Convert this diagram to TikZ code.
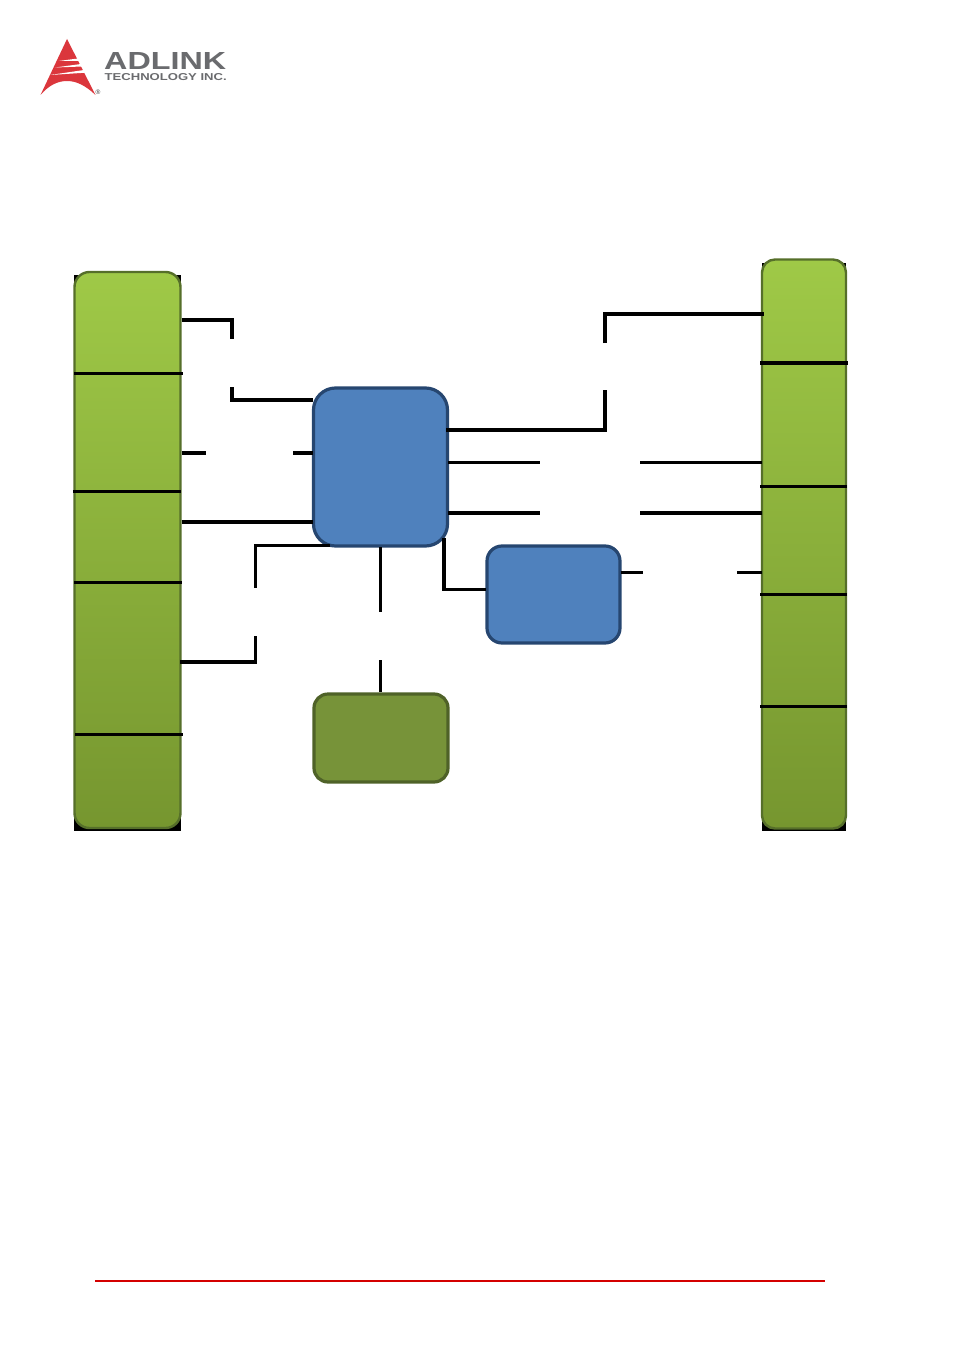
\documentclass[tikz,border=0pt]{standalone}
\usepackage{graphicx}
\usepackage{fontspec}
\setmainfont{Liberation Sans}
\usetikzlibrary{calc}
\definecolor{barborder}{HTML}{566F2A}
\definecolor{bartop}{HTML}{9FC947}
\definecolor{barbot}{HTML}{76962F}
\definecolor{bluefill}{HTML}{4F81BD}
\definecolor{blueline}{HTML}{264670}
\definecolor{greenfill}{HTML}{779339}
\definecolor{greenline}{HTML}{4F6228}
\definecolor{logored}{HTML}{DB363C}
\definecolor{logogray}{HTML}{6A6B6E}
\definecolor{footred}{HTML}{D40000}
\tikzset{
  bar/.style={draw=barborder,line width=2.4pt,top color=bartop,bottom color=barbot,rounded corners=15pt,inner sep=0pt,minimum width=#1},
  bluebox/.style={draw=blueline,line width=3.2pt,fill=bluefill,inner sep=0pt},
  greenbox/.style={draw=greenline,line width=3.2pt,fill=greenfill,inner sep=0pt,rounded corners=14pt},
  wa/.style={line width=2.8pt,black,line join=miter},
  wb/.style={line width=3.5pt,black,line join=miter},
  divthin/.style={line width=2.4pt,black},
  divthick/.style={line width=3.6pt,black},
}
\begin{document}
\begin{tikzpicture}[x=1pt,y=-1pt]
\useasboundingbox (0,0) rectangle (954,1351);
% black rectangles behind the bars
\fill[black] (74,275) rectangle (181,831);
\fill[black] (762,263) rectangle (846,831);
% boxes
\node[bar=106pt,minimum height=556pt] (L) at (127.5,550) {};
\node[bar=84pt,minimum height=569pt,rounded corners=13pt] (R) at (804,544) {};
\node[bluebox,rounded corners=22pt,minimum width=134pt,minimum height=158pt] (M) at (380.5,467) {};
\node[bluebox,rounded corners=15pt,minimum width=133pt,minimum height=97pt] (S) at (553.5,594.5) {};
\node[greenbox,minimum width=134pt,minimum height=88pt] (G) at (381,738) {};
% free ends
\coordinate (a1) at (232,339);
\coordinate (a2) at (232,387);
\coordinate (b1) at (206,453);
\coordinate (b2) at (293,453);
\coordinate (c1) at (255.5,588);
\coordinate (c2) at (255.5,636);
\coordinate (d1) at (380.5,612);
\coordinate (d2) at (380.5,660);
\coordinate (e1) at (605,390);
\coordinate (e2) at (605,343);
\coordinate (f1) at (540,462.5);
\coordinate (f2) at (640,462.5);
\coordinate (g1) at (540,513);
\coordinate (g2) at (640,513);
\coordinate (h1) at (643,572.5);
\coordinate (h2) at (737,572.5);
% left connectors
\draw[wb] (L.east |- 0,320) -| (a1);
\draw[wb] (a2) |- ([xshift=1pt]M.west |- 0,400);
\draw[wb] (L.east |- b1) -- (b1);
\draw[wb] (b2) -- ([xshift=1pt]M.west |- b2);
\draw[wb] (L.east |- 0,522) -- ([xshift=1pt]M.west |- 0,522);
\draw[wa] (330,545.5) -| (c1);
\draw[wb] (c2) |- ([xshift=-2pt]L.east |- 0,662);
% centre
\draw[wa] (M.south |- 0,547) -- (d1);
\draw[wa] (d2) -- (d2 |- G.north);
% right connectors
\draw[wb] ([xshift=-3pt]M.east |- 0,430) -| (e1);
\draw[wb] (e2) |- ([xshift=3pt]R.west |- 0,314);
\draw[wa] ([xshift=-1pt]M.east |- f1) -- (f1);
\draw[wa] (f2) -- ([xshift=1pt]R.west |- f2);
\draw[wb] ([xshift=-1pt]M.east |- g1) -- (g1);
\draw[wb] (g2) -- ([xshift=1.5pt]R.west |- g2);
\draw[wb] (444,538) |- ([xshift=1pt]S.west |- 0,589.5);
\draw[wa] ([xshift=-1pt]S.east |- h1) -- (h1);
\draw[wa] (h2) -- ([xshift=1pt]R.west |- h2);
% dividers
\draw[divthin] (74,373.5) -- (183,373.5);
\draw[divthin] (73,491.5) -- (181,491.5);
\draw[divthick] (74,582.5) -- (182,582.5);
\draw[divthin] (75,734.5) -- (183,734.5);
\draw[divthick] (760,363) -- (848,363);
\draw[divthin] (760,486.5) -- (847,486.5);
\draw[divthin] (760,594.5) -- (847,594.5);
\draw[divthin] (760,706.5) -- (847,706.5);
% footer rule
\draw[footred,line width=2pt] (95,1280.7) -- (825,1280.7);
% logo
\fill[logored] (67,39) -- (95.5,95) .. controls (85,85) and (76,81) .. (67,81) .. controls (58,81) and (49,85) .. (40.5,95) -- cycle;
\fill[white] (58.5,61) -- (78,58.5) -- (79.2,61) -- cycle;
\fill[white] (55,67.5) -- (81,64) -- (82.2,66.5) -- cycle;
\fill[white] (50,75) -- (84,70) -- (85.5,72.7) -- cycle;
\node[anchor=west,inner sep=0pt,text=logogray] (adlink) at (104,61.5) {\resizebox{122pt}{17pt}{\bfseries ADLINK}};
\node[anchor=west,inner sep=0pt,text=logogray] (tech) at (104.5,77) {\resizebox{122pt}{7pt}{\bfseries TECHNOLOGY INC.}};
\node[inner sep=0pt,text=logogray!50!black,font=\fontsize{6.5}{6.5}\selectfont] (reg) at (98,92) {®};
\end{tikzpicture}
\end{document}
